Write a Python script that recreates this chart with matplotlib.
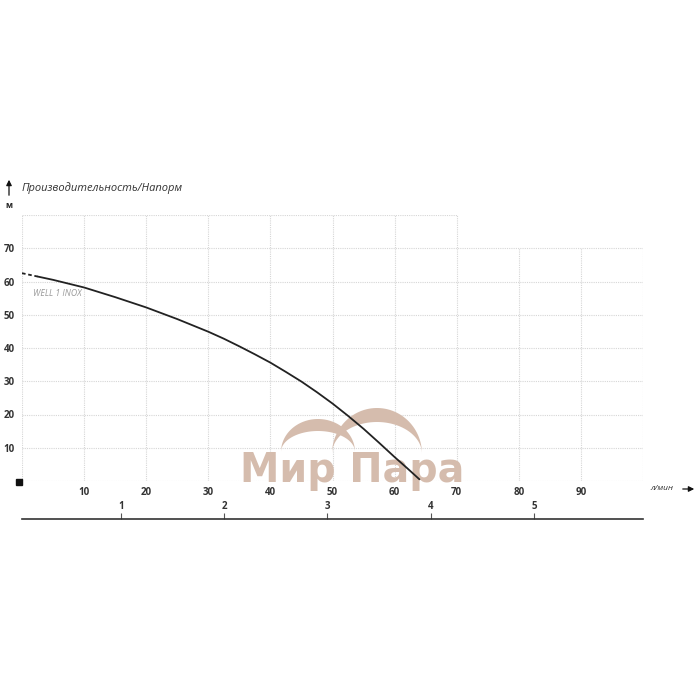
import numpy as np
import matplotlib.pyplot as plt
from matplotlib.patches import Polygon
from matplotlib.transforms import Affine2D

# Pump curve WELL 1 INOX: flow (l/min) vs head (m)
flow = [0, 2.5, 5, 10, 15, 20, 25, 30, 32.5, 35, 37.5, 40, 42.5, 45, 47.5,
        50, 52.5, 55, 57.5, 60, 62, 64]
head = [62.5, 61.5, 60.5, 58.2, 55.3, 52.2, 48.7, 44.9, 42.8, 40.5, 38.1, 35.6,
        32.8, 29.9, 26.7, 23.3, 19.6, 15.7, 11.5, 7.2, 3.9, 0.5]
n_dashed = 2  # first points drawn dashed

x_ticks = [10, 20, 30, 40, 50, 60, 70, 80, 90]
y_ticks = [10, 20, 30, 40, 50, 60, 70]
m3h_ticks = [1, 2, 3, 4, 5]

x_grid = [0, 10, 20, 30, 40, 50, 60, 70, 80, 90, 100]
y_grid = [0, 10, 20, 30, 40, 50, 60, 70]

W = H = 700
fig = plt.figure(figsize=(7, 7), dpi=100)
fig.patch.set_facecolor('white')
# pixel coordinates of the image (y downward) -> figure
pix = Affine2D().scale(1 / W, -1 / H).translate(0, 1) + fig.transFigure

ax = fig.add_axes([22 / W, (H - 481) / H, 621 / W, 266 / H])
ax.set_xlim(0, 100)
ax.set_ylim(0, 80)
for s in ax.spines.values():
    s.set_visible(False)

# dotted grid, the 80 m row only spans up to 70 l/min
grid_kw = dict(color='#d6d6d6', linestyle=(0, (1, 1)), linewidth=0.8, zorder=1)
for gx in x_grid:
    ax.vlines(gx, 0, 80 if gx <= 70 else 70, **grid_kw)
for gy in y_grid:
    ax.hlines(gy, 0, 100, **grid_kw)
ax.hlines(80, 0, 70, **grid_kw)

ax.set_xticks(x_ticks)
ax.set_xticklabels([str(v) for v in x_ticks])
ax.set_yticks(y_ticks)
ax.set_yticklabels([str(v) for v in y_ticks])
ax.tick_params(axis='both', length=0, labelsize=7, labelcolor='#333333')
ax.tick_params(axis='x', pad=4)
ax.tick_params(axis='y', pad=5)
for lab in ax.get_xticklabels() + ax.get_yticklabels():
    lab.set_fontweight('bold')
    lab.set_family('Open Sans')

# watermark "Мир Пара" (below tick labels and curve)
wm = '#d5bcad'
def crescent(cx, base, a, b, t):
    th = np.linspace(np.pi, 0, 60)
    outer = np.column_stack([cx + a * np.cos(th), base - b * np.sin(th)])
    inner = np.column_stack([cx + a * np.cos(th[::-1]), base - (b - t) * np.sin(th[::-1])])
    return np.vstack([outer, inner])

for cx, base, a, b, t in [(318, 452, 37, 33, 12), (377, 454, 45, 46, 14)]:
    ax.add_patch(Polygon(crescent(cx, base, a, b, t), closed=True, facecolor=wm,
                         edgecolor='none', transform=pix, zorder=1.2, clip_on=False))
ax.text(352, 482, 'Мир Пара', transform=pix, ha='center', va='baseline',
        fontsize=28.5, fontweight='bold', family='DejaVu Sans', color=wm,
        zorder=1.2, clip_on=False)

# curve
ax.plot(flow[:n_dashed], head[:n_dashed], color='#222222', lw=1.3,
        linestyle=(0, (2, 1.5)), zorder=3)
ax.plot(flow[n_dashed - 1:], head[n_dashed - 1:], color='#222222', lw=1.3,
        zorder=3, solid_capstyle='round', solid_joinstyle='round')
ax.text(1.8, 56.3, 'WELL 1 INOX', fontsize=6.2, style='italic', color='#999999',
        family='Open Sans', va='center', zorder=3)

# origin square
ax.plot([-0.5], [-0.3], marker='s', markersize=4.5, color='#111111',
        clip_on=False, zorder=4)

# second flow scale (m3/h)
ax2 = fig.add_axes([22 / W, (H - 519) / H - 0.01, 621 / W, 0.01])
ax2.set_xlim(0.041, 6.056)
ax2.set_ylim(0, 1)
for name, s in ax2.spines.items():
    s.set_visible(name == 'top')
ax2.spines['top'].set_color('#333333')
ax2.spines['top'].set_linewidth(1.2)
ax2.set_yticks([])
ax2.set_xticks(m3h_ticks)
ax2.set_xticklabels([str(v) for v in m3h_ticks])
ax2.xaxis.set_ticks_position('top')
ax2.tick_params(axis='x', direction='out', length=4, width=0.8, color='#555555',
                labelsize=7, labelcolor='#333333', pad=1, labeltop=True, labelbottom=False)
for lab in ax2.get_xticklabels():
    lab.set_fontweight('bold')
    lab.set_family('Open Sans')

# header and axis names
fig.text(22 / W, 1 - 188 / H, 'Производительность/Напорм', fontsize=8, style='italic',
         color='#333333', family='Open Sans', va='center', ha='left')
fig.text(9 / W, 1 - 205 / H, 'м', fontsize=6, fontweight='bold', color='#222222',
         family='Open Sans', va='center', ha='center')
fig.text(662 / W, 1 - 489 / H, 'л/мин', fontsize=6, style='italic', color='#333333',
         family='Open Sans', va='center', ha='center')
arrow = dict(arrowstyle='-|>', color='#111111', lw=0.9, mutation_scale=8)
fig.add_artist(plt.Annotation('', xy=(9, 177), xytext=(9, 198), xycoords=pix,
                              textcoords=pix, arrowprops=arrow))
fig.add_artist(plt.Annotation('', xy=(697, 489), xytext=(680, 489), xycoords=pix,
                              textcoords=pix, arrowprops=arrow))

fig.savefig('out.png', dpi=100, facecolor='white')
